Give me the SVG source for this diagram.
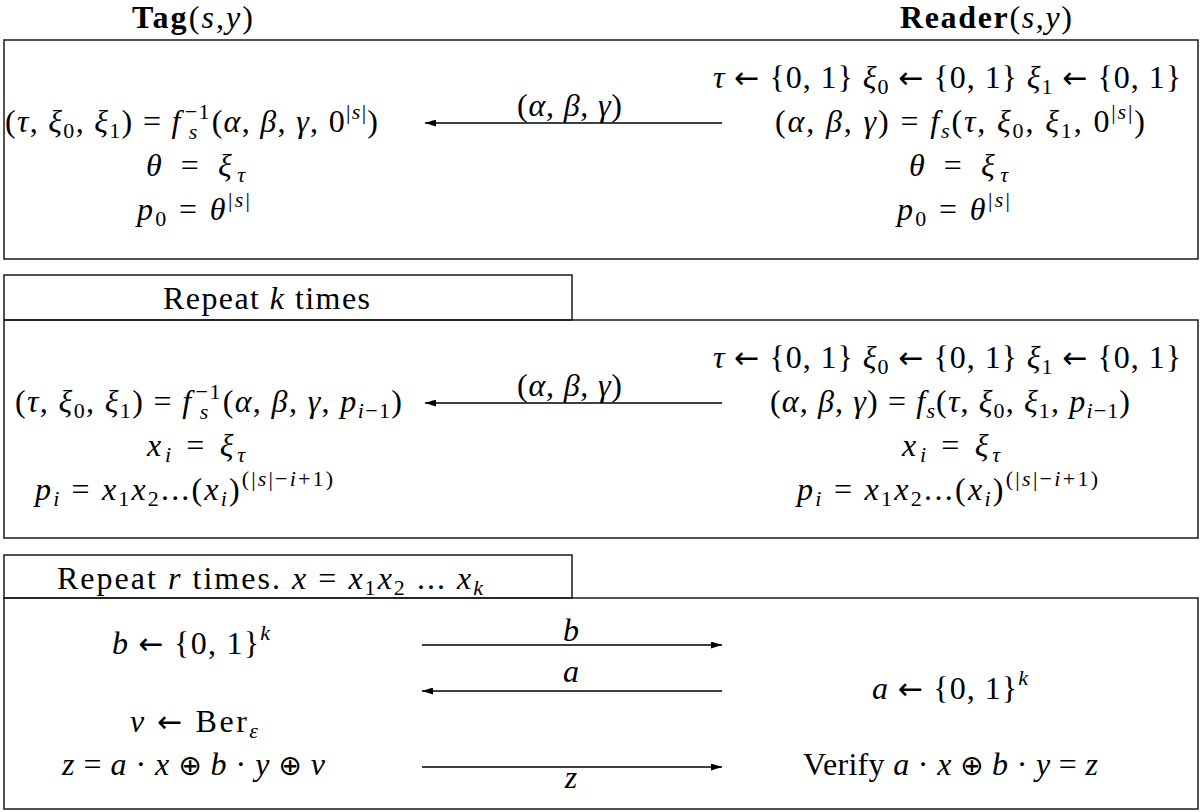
<svg xmlns="http://www.w3.org/2000/svg" width="1203" height="812" viewBox="0 0 1203 812">
<style>
text{font-family:"Liberation Serif","DejaVu Serif",serif;font-size:32px;fill:#000}
.i{font-style:italic}
.s{font-size:22px}
.b{font-weight:bold}
.ar{font-family:"DejaVu Sans",sans-serif;font-size:30px;font-style:normal}
.op{font-family:"DejaVu Sans",sans-serif;font-size:28px;font-style:normal}
.box{fill:none;stroke:#1a1a1a;stroke-width:1.5}
.arr{stroke:#000;stroke-width:1.3;fill:none;marker-end:url(#ah)}
</style>
<defs>
<marker id="ah" viewBox="0 0 11 7" refX="11" refY="3.5" markerWidth="11" markerHeight="7" markerUnits="userSpaceOnUse" orient="auto"><path d="M0,0 L11,3.5 L0,7 z" fill="#000"/></marker>
</defs>
<rect x="0" y="0" width="1203" height="812" fill="#fff"/>

<g id="header-tag"><text x="132" y="28" textLength="121" lengthAdjust="spacing"><tspan class="b">Tag</tspan>(<tspan class="i">s</tspan>,<tspan class="i">y</tspan>)</text></g>
<g id="header-reader"><text x="900" y="28" textLength="172" lengthAdjust="spacing"><tspan class="b">Reader</tspan>(<tspan class="i">s</tspan>,<tspan class="i">y</tspan>)</text></g>

<g id="block-init">
<rect class="box" x="4" y="40" width="1194" height="219"/>
<text x="5" y="132" textLength="373" lengthAdjust="spacing">(<tspan class="i">τ</tspan>, <tspan class="i">ξ</tspan><tspan class="s" dy="6">0</tspan><tspan dy="-6">, </tspan><tspan class="i">ξ</tspan><tspan class="s" dy="6">1</tspan><tspan dy="-6">) = </tspan><tspan class="i">f</tspan><tspan class="s" dx="3" dy="-13">−1</tspan><tspan class="s i" dx="-22" dy="20">s</tspan><tspan dx="13" dy="-7">(</tspan><tspan class="i">α</tspan>, <tspan class="i">β</tspan>, <tspan class="i">γ</tspan>, 0<tspan class="s" dy="-13">|</tspan><tspan class="s i">s</tspan><tspan class="s">|</tspan><tspan dy="13">)</tspan></text>
<text x="146" y="176" textLength="99" lengthAdjust="spacing"><tspan class="i">θ</tspan> = <tspan class="i">ξ</tspan><tspan class="s i" dy="6">τ</tspan></text>
<text x="137" y="220" textLength="113" lengthAdjust="spacing"><tspan class="i">p</tspan><tspan class="s" dy="6">0</tspan><tspan dy="-6"> = </tspan><tspan class="i">θ</tspan><tspan class="s" dy="-13">|</tspan><tspan class="s i">s</tspan><tspan class="s">|</tspan></text>
<text x="713" y="88" textLength="468" lengthAdjust="spacing"><tspan class="i">τ</tspan> <tspan class="ar">←</tspan> {0, 1} <tspan class="i">ξ</tspan><tspan class="s" dy="6">0</tspan><tspan dy="-6"> </tspan><tspan class="ar">←</tspan> {0, 1} <tspan class="i">ξ</tspan><tspan class="s" dy="6">1</tspan><tspan dy="-6"> </tspan><tspan class="ar">←</tspan> {0, 1}</text>
<text x="775" y="132" textLength="370" lengthAdjust="spacing">(<tspan class="i">α</tspan>, <tspan class="i">β</tspan>, <tspan class="i">γ</tspan>) = <tspan class="i">f</tspan><tspan class="s i" dy="6">s</tspan><tspan dy="-6">(</tspan><tspan class="i">τ</tspan>, <tspan class="i">ξ</tspan><tspan class="s" dy="6">0</tspan><tspan dy="-6">, </tspan><tspan class="i">ξ</tspan><tspan class="s" dy="6">1</tspan><tspan dy="-6">, 0</tspan><tspan class="s" dy="-13">|</tspan><tspan class="s i">s</tspan><tspan class="s">|</tspan><tspan dy="13">)</tspan></text>
<text x="909" y="176" textLength="99" lengthAdjust="spacing"><tspan class="i">θ</tspan> = <tspan class="i">ξ</tspan><tspan class="s i" dy="6">τ</tspan></text>
<text x="897" y="220" textLength="113" lengthAdjust="spacing"><tspan class="i">p</tspan><tspan class="s" dy="6">0</tspan><tspan dy="-6"> = </tspan><tspan class="i">θ</tspan><tspan class="s" dy="-13">|</tspan><tspan class="s i">s</tspan><tspan class="s">|</tspan></text>
</g>

<g id="block-repeat-k">
<rect class="box" x="4" y="275" width="568" height="45"/>
<text x="163" y="309" textLength="207" lengthAdjust="spacing">Repeat <tspan class="i">k</tspan> times</text>
<rect class="box" x="4" y="320" width="1194" height="218"/>
<text x="15" y="412" textLength="387" lengthAdjust="spacing">(<tspan class="i">τ</tspan>, <tspan class="i">ξ</tspan><tspan class="s" dy="6">0</tspan><tspan dy="-6">, </tspan><tspan class="i">ξ</tspan><tspan class="s" dy="6">1</tspan><tspan dy="-6">) = </tspan><tspan class="i">f</tspan><tspan class="s" dx="3" dy="-13">−1</tspan><tspan class="s i" dx="-22" dy="20">s</tspan><tspan dx="13" dy="-7">(</tspan><tspan class="i">α</tspan>, <tspan class="i">β</tspan>, <tspan class="i">γ</tspan>, <tspan class="i">p</tspan><tspan class="s" dy="6"><tspan class="i">i</tspan>−1</tspan><tspan dy="-6">)</tspan></text>
<text x="147" y="456" textLength="98" lengthAdjust="spacing"><tspan class="i">x</tspan><tspan class="s i" dy="6">i</tspan><tspan dy="-6"> = </tspan><tspan class="i">ξ</tspan><tspan class="s i" dy="6">τ</tspan></text>
<text x="35" y="500" textLength="298" lengthAdjust="spacing"><tspan class="i">p</tspan><tspan class="s i" dy="6">i</tspan><tspan dy="-6"> = </tspan><tspan class="i">x</tspan><tspan class="s" dy="6">1</tspan><tspan class="i" dy="-6">x</tspan><tspan class="s" dy="6">2</tspan><tspan dy="-6">...(</tspan><tspan class="i">x</tspan><tspan class="s i" dy="6">i</tspan><tspan dy="-6">)</tspan><tspan class="s" dy="-14">(|<tspan class="i">s</tspan>|−<tspan class="i">i</tspan>+1)</tspan></text>
<text x="713" y="368" textLength="468" lengthAdjust="spacing"><tspan class="i">τ</tspan> <tspan class="ar">←</tspan> {0, 1} <tspan class="i">ξ</tspan><tspan class="s" dy="6">0</tspan><tspan dy="-6"> </tspan><tspan class="ar">←</tspan> {0, 1} <tspan class="i">ξ</tspan><tspan class="s" dy="6">1</tspan><tspan dy="-6"> </tspan><tspan class="ar">←</tspan> {0, 1}</text>
<text x="770" y="412" textLength="360" lengthAdjust="spacing">(<tspan class="i">α</tspan>, <tspan class="i">β</tspan>, <tspan class="i">γ</tspan>) = <tspan class="i">f</tspan><tspan class="s i" dy="6">s</tspan><tspan dy="-6">(</tspan><tspan class="i">τ</tspan>, <tspan class="i">ξ</tspan><tspan class="s" dy="6">0</tspan><tspan dy="-6">, </tspan><tspan class="i">ξ</tspan><tspan class="s" dy="6">1</tspan><tspan dy="-6">, </tspan><tspan class="i">p</tspan><tspan class="s" dy="6"><tspan class="i">i</tspan>−1</tspan><tspan dy="-6">)</tspan></text>
<text x="902" y="456" textLength="98" lengthAdjust="spacing"><tspan class="i">x</tspan><tspan class="s i" dy="6">i</tspan><tspan dy="-6"> = </tspan><tspan class="i">ξ</tspan><tspan class="s i" dy="6">τ</tspan></text>
<text x="797" y="500" textLength="301" lengthAdjust="spacing"><tspan class="i">p</tspan><tspan class="s i" dy="6">i</tspan><tspan dy="-6"> = </tspan><tspan class="i">x</tspan><tspan class="s" dy="6">1</tspan><tspan class="i" dy="-6">x</tspan><tspan class="s" dy="6">2</tspan><tspan dy="-6">...(</tspan><tspan class="i">x</tspan><tspan class="s i" dy="6">i</tspan><tspan dy="-6">)</tspan><tspan class="s" dy="-14">(|<tspan class="i">s</tspan>|−<tspan class="i">i</tspan>+1)</tspan></text>
</g>

<g id="block-repeat-r">
<rect class="box" x="4" y="555" width="568" height="43"/>
<text x="57" y="589" textLength="426" lengthAdjust="spacing">Repeat <tspan class="i">r</tspan> times. <tspan class="i">x</tspan> = <tspan class="i">x</tspan><tspan class="s" dy="6">1</tspan><tspan class="i" dy="-6">x</tspan><tspan class="s" dy="6">2</tspan><tspan dy="-6"> ... </tspan><tspan class="i">x</tspan><tspan class="s i" dy="6">k</tspan></text>
<rect class="box" x="4" y="598" width="1194" height="211"/>
<text x="112" y="654" textLength="158" lengthAdjust="spacing"><tspan class="i">b</tspan> <tspan class="ar">←</tspan> {0, 1}<tspan class="s i" dy="-14">k</tspan></text>
<text x="130" y="732" textLength="128" lengthAdjust="spacing"><tspan class="i">ν</tspan> <tspan class="ar">←</tspan> Ber<tspan class="s i" dy="6">ε</tspan></text>
<text x="62" y="775" textLength="263" lengthAdjust="spacing"><tspan class="i">z</tspan> = <tspan class="i">a</tspan> · <tspan class="i">x</tspan> <tspan class="op">⊕</tspan> <tspan class="i">b</tspan> · <tspan class="i">y</tspan> <tspan class="op">⊕</tspan> <tspan class="i">ν</tspan></text>
<text x="872" y="699" textLength="156" lengthAdjust="spacing"><tspan class="i">a</tspan> <tspan class="ar">←</tspan> {0, 1}<tspan class="s i" dy="-14">k</tspan></text>
<text x="803" y="775" textLength="295" lengthAdjust="spacing">Verify <tspan class="i">a</tspan> · <tspan class="i">x</tspan> <tspan class="op">⊕</tspan> <tspan class="i">b</tspan> · <tspan class="i">y</tspan> = <tspan class="i">z</tspan></text>
</g>

<g id="connectors">
<line class="arr" x1="722" y1="123" x2="425" y2="123"/>
<text x="517" y="116" textLength="105" lengthAdjust="spacing">(<tspan class="i">α</tspan>, <tspan class="i">β</tspan>, <tspan class="i">γ</tspan>)</text>
<line class="arr" x1="722" y1="403" x2="425" y2="403"/>
<text x="517" y="396" textLength="105" lengthAdjust="spacing">(<tspan class="i">α</tspan>, <tspan class="i">β</tspan>, <tspan class="i">γ</tspan>)</text>
<line class="arr" x1="422" y1="645" x2="722" y2="645"/>
<text class="i" x="571" y="641" text-anchor="middle">b</text>
<line class="arr" x1="722" y1="691" x2="422" y2="691"/>
<text class="i" x="571" y="682" text-anchor="middle">a</text>
<line class="arr" x1="422" y1="767" x2="722" y2="767"/>
<text class="i" x="571" y="788" text-anchor="middle">z</text>
</g>
</svg>
